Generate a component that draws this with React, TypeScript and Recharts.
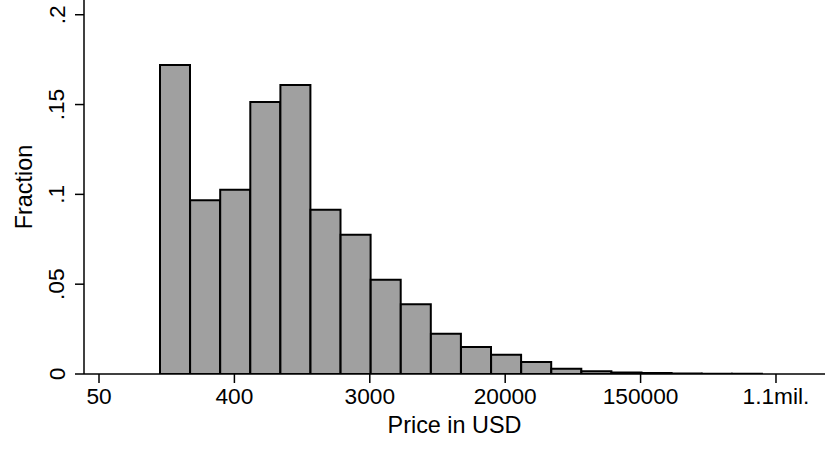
import React from 'react';
import { BarChart, Bar, XAxis, YAxis, Label } from 'recharts';

// Histogram bins (lower edge of each bin, in ln(price))
const binStarts = [
  4.9, 5.345, 5.79, 6.234, 6.679, 7.123, 7.568, 8.013, 8.457, 8.902,
  9.346, 9.791, 10.236, 10.68, 11.125, 11.569, 12.014, 12.459, 12.903, 13.348,
];
// Fraction of observations per bin
const fractions = [
  0.172, 0.0967, 0.1026, 0.1514, 0.1609, 0.0915, 0.0775, 0.0525, 0.0388, 0.0224,
  0.0151, 0.0107, 0.0067, 0.0029, 0.0015, 0.0009, 0.0005, 0.0003, 0.0002, 0.0002,
];
// X ticks (positions in ln(price)) and their labels
const xTickPositions = [4, 6, 8, 10, 12, 14];
const xTickLabels = ['50', '400', '3000', '20000', '150000', '1.1mil.'];
// Y ticks
const yTicks = [0, 0.05, 0.1, 0.15, 0.2];
const yTickLabels = ['0', '.05', '.1', '.15', '.2'];

const data = binStarts.map((s, i) => ({ bin: String(s), lnStart: s, fraction: fractions[i] }));

const FONT = '"Liberation Sans", Arial, Helvetica, sans-serif';
const FS = 22.7;
const FS_TITLE = 23.4;

const YTick = (props: any) => {
  const { x, y, payload } = props;
  const idx = yTicks.indexOf(payload.value);
  const label = idx >= 0 ? yTickLabels[idx] : String(payload.value);
  const bx = x - 0.5;
  return (
    <text
      x={bx}
      y={y}
      transform={`rotate(-90, ${bx}, ${y})`}
      textAnchor="middle"
      fontSize={FS}
      fontFamily={FONT}
      fill="#000"
    >
      {label}
    </text>
  );
};

const XTick = (props: any) => {
  const { x, y, payload } = props;
  const idx = xTickPositions.indexOf(payload.value);
  const label = idx >= 0 ? xTickLabels[idx] : String(payload.value);
  return (
    <text x={x} y={y} dy={16} textAnchor="middle" fontSize={FS} fontFamily={FONT} fill="#000">
      {label}
    </text>
  );
};

export default function App() {
  return (
    <div style={{ position: 'absolute', left: 0, top: 0, width: 825, height: 450, background: '#fff' }}>
      <BarChart
        width={825}
        height={450}
        data={data}
        margin={{ top: 0, right: 0, bottom: 0, left: 0 }}
        barCategoryGap={0}
      >
        <XAxis
          xAxisId="bins"
          dataKey="bin"
          type="category"
          hide
          height={0}
          padding={{ left: 76, right: 63 }}
        />
        <XAxis
          xAxisId="price"
          dataKey="lnStart"
          type="number"
          domain={[3.7784, 14.724]}
          allowDataOverflow
          ticks={xTickPositions}
          interval={0}
          height={76}
          tickSize={9}
          tickMargin={5}
          tick={<XTick />}
          axisLine={{ stroke: '#000', strokeWidth: 1.5 }}
          tickLine={{ stroke: '#000', strokeWidth: 1.5 }}
        >
          <Label
            content={(p: any) => {
              const vb = p.viewBox;
              return (
                <text
                  x={vb.x + vb.width / 2}
                  y={433}
                  textAnchor="middle"
                  fontSize={FS_TITLE}
                  fontFamily={FONT}
                  fill="#000"
                >
                  Price in USD
                </text>
              );
            }}
          />
        </XAxis>
        <YAxis
          type="number"
          domain={[0, 0.2082]}
          allowDataOverflow
          ticks={yTicks}
          interval={0}
          width={84}
          tickSize={9}
          tickMargin={10}
          tick={<YTick />}
          axisLine={{ stroke: '#000', strokeWidth: 1.5 }}
          tickLine={{ stroke: '#000', strokeWidth: 1.5 }}
        >
          <Label
            content={(p: any) => {
              const vb = p.viewBox;
              const cy = vb.y + vb.height / 2;
              return (
                <text
                  x={31.5}
                  y={cy}
                  transform={`rotate(-90, 31.5, ${cy})`}
                  textAnchor="middle"
                  fontSize={FS_TITLE}
                  fontFamily={FONT}
                  fill="#000"
                >
                  Fraction
                </text>
              );
            }}
          />
        </YAxis>
        <Bar
          xAxisId="bins"
          dataKey="fraction"
          fill="#a0a0a0"
          stroke="#000"
          strokeWidth={2}
          isAnimationActive={false}
        />
      </BarChart>
    </div>
  );
}
